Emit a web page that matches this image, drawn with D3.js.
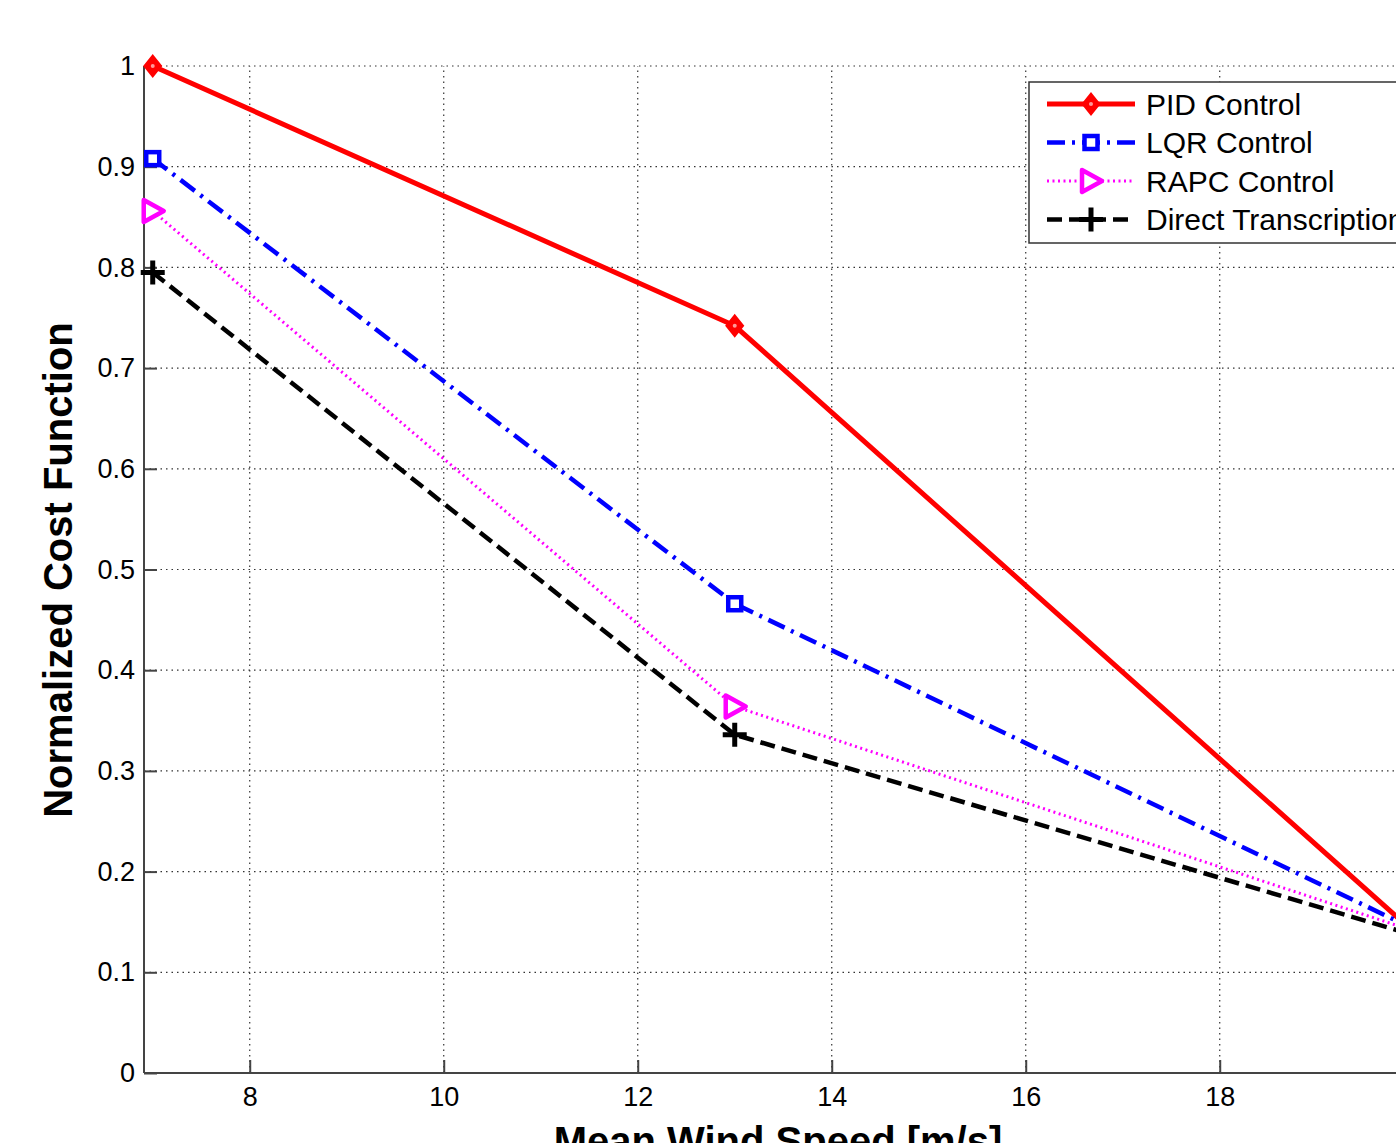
<!DOCTYPE html>
<html>
<head>
<meta charset="utf-8">
<script src="https://cdn.jsdelivr.net/npm/d3@7"></script>
<style>
  html, body { margin: 0; padding: 0; background: #fff; overflow: hidden; }
  svg { display: block; }
</style>
</head>
<body>
<div id="chart"></div>
<script>
// data
var windSpeed = [7, 13, 20];
var pidCost   = [1.0, 0.742, 0.14];
var lqrCost   = [0.908, 0.466, 0.143];
var rapcCost  = [0.856, 0.364, 0.141];
var dtCost    = [0.795, 0.336, 0.137];

var xTicks = [8, 10, 12, 14, 16, 18, 20];
var yTicks = [0, 0.1, 0.2, 0.3, 0.4, 0.5, 0.6, 0.7, 0.8, 0.9, 1];

var seriesNames = ["PID Control", "LQR Control", "RAPC Control", "Direct Transcription"];

var outerWidth = 1396,
    outerHeight = 1143;

var x = d3.scaleLinear().domain([6.91, 20.2]).range([144, 144 + 97 * 13.29]);
var y = d3.scaleLinear().domain([0, 1]).range([1073, 66]);

var series = [
  { name: seriesNames[0], values: pidCost,  color: "#ff0000", dash: null,             width: 5,   marker: "diamond" },
  { name: seriesNames[1], values: lqrCost,  color: "#0000ff", dash: "18,7,3,7",       width: 4.5, marker: "square" },
  { name: seriesNames[2], values: rapcCost, color: "#ff00ff", dash: "2,3.5",          width: 3,   marker: "triangle" },
  { name: seriesNames[3], values: dtCost,   color: "#000000", dash: "15,7",           width: 4.5, marker: "plus" }
];

var svg = d3.select("#chart").append("svg")
    .attr("width", outerWidth)
    .attr("height", outerHeight)
    .style("font-family", "'Liberation Sans', Arial, sans-serif");

// grid
var grid = svg.append("g").attr("class", "grid");
grid.selectAll(".vgrid")
    .data(xTicks)
    .enter().append("line")
    .attr("x1", function(d) { return x(d); })
    .attr("x2", function(d) { return x(d); })
    .attr("y1", y(0))
    .attr("y2", y(1))
    .attr("stroke", "#333")
    .attr("stroke-width", 1.2)
    .attr("stroke-dasharray", "1.5,4");
grid.selectAll(".hgrid")
    .data(yTicks.filter(function(d) { return d > 0; }))
    .enter().append("line")
    .attr("x1", x.range()[0])
    .attr("x2", x.range()[1])
    .attr("y1", function(d) { return y(d); })
    .attr("y2", function(d) { return y(d); })
    .attr("stroke", "#333")
    .attr("stroke-width", 1.2)
    .attr("stroke-dasharray", "1.5,4");

// axes
var xAxis = d3.axisBottom(x).tickValues(xTicks).tickSize(-13).tickPadding(14)
    .tickFormat(d3.format("d"));
var yAxis = d3.axisLeft(y).tickValues(yTicks).tickSize(-13).tickPadding(9)
    .tickFormat(function(d) { return d === 0 || d === 1 ? d3.format("d")(d) : d3.format(".1f")(d); });

var gx = svg.append("g")
    .attr("transform", "translate(0," + y(0) + ")")
    .call(xAxis);
var gy = svg.append("g")
    .attr("transform", "translate(" + x.range()[0] + ",0)")
    .call(yAxis);

[gx, gy].forEach(function(g) {
  g.select(".domain").attr("stroke", "#444").attr("stroke-width", 2);
  g.selectAll(".tick line").attr("stroke", "#444").attr("stroke-width", 2);
  g.selectAll(".tick text").attr("fill", "#000").style("font-size", "27px");
});
gx.select(".domain").attr("d", "M" + x.range()[0] + ",0H" + x.range()[1]);
gy.select(".domain").attr("d", "M0," + y(0) + "V" + y(1));

// axis labels
svg.append("text")
    .attr("x", 778)
    .attr("y", 1155)
    .attr("text-anchor", "middle")
    .style("font-size", "40px")
    .style("font-weight", "bold")
    .text("Mean Wind Speed [m/s]");

svg.append("text")
    .attr("transform", "translate(72,570) rotate(-90)")
    .attr("text-anchor", "middle")
    .style("font-size", "40px")
    .style("font-weight", "bold")
    .text("Normalized Cost Function");

// lines
var line = d3.line()
    .x(function(d, i) { return x(windSpeed[i]); })
    .y(function(d) { return y(d); });

function drawMarker(g, type, color, cx, cy) {
  if (type === "diamond") {
    g.append("path")
      .attr("d", "M" + cx + "," + (cy - 10) + "L" + (cx + 8) + "," + cy + "L" + cx + "," + (cy + 10) + "L" + (cx - 8) + "," + cy + "Z")
      .attr("fill", color).attr("stroke", color).attr("stroke-width", 2.5);
    g.append("circle").attr("cx", cx).attr("cy", cy).attr("r", 2).attr("fill", "#fff").attr("opacity", 0.6);
  } else if (type === "square") {
    g.append("rect")
      .attr("x", cx - 6.5).attr("y", cy - 6.5).attr("width", 13).attr("height", 13)
      .attr("fill", "#fff").attr("stroke", color).attr("stroke-width", 4.5);
  } else if (type === "triangle") {
    g.append("path")
      .attr("d", "M" + (cx - 9) + "," + (cy - 11) + "L" + (cx + 11) + "," + cy + "L" + (cx - 9) + "," + (cy + 11) + "Z")
      .attr("fill", "#fff").attr("stroke", color).attr("stroke-width", 4.5).attr("stroke-linejoin", "round");
  } else if (type === "plus") {
    g.append("path")
      .attr("d", "M" + (cx - 12) + "," + cy + "H" + (cx + 12) + "M" + cx + "," + (cy - 12) + "V" + (cy + 12))
      .attr("stroke", color).attr("stroke-width", 5);
  }
}

var plot = svg.append("g").attr("class", "series");
series.forEach(function(s) {
  plot.append("path")
    .datum(s.values)
    .attr("d", line)
    .attr("fill", "none")
    .attr("stroke", s.color)
    .attr("stroke-width", s.width)
    .attr("stroke-dasharray", s.dash);
  var mg = plot.append("g");
  s.values.forEach(function(v, i) {
    drawMarker(mg, s.marker, s.color, x(windSpeed[i]), y(v));
  });
});

// legend
var legend = svg.append("g").attr("transform", "translate(1029,82)");
legend.append("rect")
    .attr("width", 420)
    .attr("height", 161)
    .attr("fill", "#fff")
    .attr("stroke", "#333")
    .attr("stroke-width", 1.5);

var item = legend.selectAll(".legend")
    .data(series)
    .enter().append("g")
    .attr("class", "legend")
    .attr("transform", function(d, i) { return "translate(0," + (22 + i * 38.5) + ")"; });

item.append("line")
    .attr("x1", 18).attr("x2", 106)
    .attr("stroke", function(d) { return d.color; })
    .attr("stroke-width", function(d) { return d.width; })
    .attr("stroke-dasharray", function(d) { return d.dash; });
item.each(function(d) { drawMarker(d3.select(this), d.marker, d.color, 62, 0); });
item.append("text")
    .attr("x", 117)
    .attr("dy", "0.36em")
    .style("font-size", "30px")
    .text(function(d) { return d.name; });
</script>
</body>
</html>
